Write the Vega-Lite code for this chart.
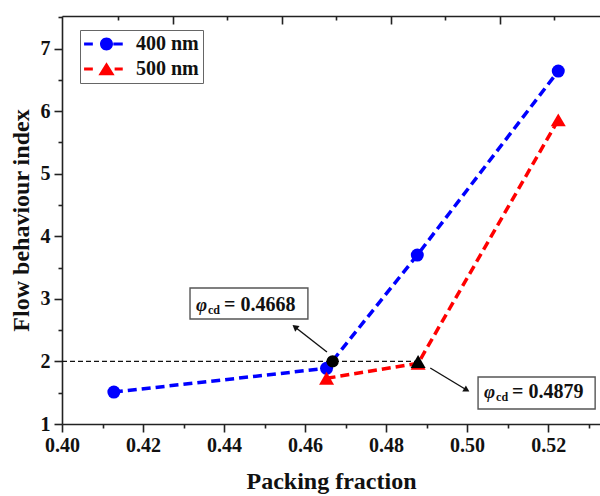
{
  "$schema": "https://vega.github.io/schema/vega-lite/v6.json",
  "width": 538,
  "height": 408,
  "autosize": {"type": "none"},
  "padding": {"left": 62, "top": 16, "right": 0, "bottom": 72},
  "background": "white",
  "config": {
    "view": {"stroke": null},
    "font": "Liberation Serif",
    "axis": {
      "labelFont": "Liberation Serif", "labelFontWeight": "bold", "labelFontSize": 20, "labelColor": "#111",
      "titleFont": "Liberation Serif", "titleFontWeight": "bold", "titleFontSize": 24, "titleColor": "#111",
      "domainColor": "#222", "domainWidth": 1.6, "tickColor": "#222", "tickWidth": 1.6, "grid": false,
      "labelFlush": false, "labelOverlap": false
    }
  },
  "datasets": {
    "series": [
      {"series": "400 nm", "x": 0.4128, "y": 1.51},
      {"series": "400 nm", "x": 0.4653, "y": 1.89},
      {"series": "400 nm", "x": 0.4877, "y": 3.70},
      {"series": "400 nm", "x": 0.5225, "y": 6.64},
      {"series": "500 nm", "x": 0.4653, "y": 1.73},
      {"series": "500 nm", "x": 0.4879, "y": 1.97},
      {"series": "500 nm", "x": 0.5225, "y": 5.86}
    ],
    "critical": [
      {"series": "400 nm", "x": 0.4668, "y": 2.0},
      {"series": "500 nm", "x": 0.4879, "y": 2.0}
    ],
    "guide": [{"x": 0.40, "x2": 0.4879, "y": 2.0}],
    "arrows": [
      {"id": "a", "x": 0.4654, "y": 2.15, "x2": 0.4575, "y2": 2.55},
      {"id": "b", "x": 0.4909, "y": 1.895, "x2": 0.4999, "y2": 1.543}
    ],
    "boxes": [
      {"label": "= 0.4668", "x": 0.4316, "x2": 0.4607, "y": 3.173, "y2": 2.677, "ty": 2.805},
      {"label": "= 0.4879", "x": 0.5027, "x2": 0.5316, "y": 1.751, "y2": 1.24, "ty": 1.415}
    ]
  },
  "layer": [
    {
      "data": {"name": "guide"},
      "mark": {"type": "rule", "color": "#111", "strokeWidth": 1.3, "strokeDash": [5, 3]},
      "encoding": {
        "x": {"field": "x", "type": "quantitative", "scale": {"domain": [0.4, 0.5328], "nice": false, "zero": false},
              "axis": {"orient": "top", "values": [0.41383, 0.44074, 0.46766, 0.49457, 0.52148], "tickSize": -4, "labels": false, "domain": false, "title": null}},
        "x2": {"field": "x2"},
        "y": {"field": "y", "type": "quantitative", "scale": {"domain": [1, 7.52], "nice": false, "zero": false}, "axis": null}
      }
    },
    {
      "data": {"name": "series"},
      "mark": {"type": "line", "strokeDash": [9, 5], "strokeWidth": 3.5},
      "encoding": {
        "x": {"field": "x", "type": "quantitative",
              "axis": {"orient": "bottom", "values": [0.4, 0.42, 0.44, 0.46, 0.48, 0.5, 0.52], "format": ".2f", "tickSize": 8, "labelPadding": 3, "title": "Packing fraction", "titleBaseline": "alphabetic", "titleY": 64}},
        "y": {"field": "y", "type": "quantitative",
              "axis": {"orient": "left", "values": [1, 2, 3, 4, 5, 6, 7], "format": "d", "tickSize": 8, "labelPadding": 4, "title": "Flow behaviour index", "titlePadding": 7}},
        "color": {"field": "series", "type": "nominal", "scale": {"range": ["#0000ff", "#ff0000"]}, "legend": null}
      }
    },
    {
      "data": {"name": "series"},
      "transform": [{"filter": "datum.series === '400 nm'"}],
      "mark": {"type": "point", "shape": "circle", "filled": true, "size": 169, "opacity": 1},
      "encoding": {
        "x": {"field": "x", "type": "quantitative",
              "axis": {"orient": "bottom", "values": [0.41, 0.43, 0.45, 0.47, 0.49, 0.51, 0.53], "tickSize": 4, "labels": false, "domain": false, "title": null}},
        "y": {"field": "y", "type": "quantitative",
              "axis": {"orient": "left", "values": [1.5, 2.5, 3.5, 4.5, 5.5, 6.5, 7.5], "tickSize": 4, "labels": false, "domain": false, "title": null}},
        "color": {"field": "series", "type": "nominal", "legend": null}
      }
    },
    {
      "data": {"name": "series"},
      "transform": [{"filter": "datum.series === '500 nm'"}],
      "mark": {"type": "point", "shape": "triangle-up", "filled": true, "size": 225, "opacity": 1},
      "encoding": {
        "x": {"field": "x", "type": "quantitative",
              "axis": {"orient": "top", "values": [0.42729, 0.4542, 0.48111, 0.50803], "tickSize": -8, "labels": false, "domain": true, "title": null}},
        "y": {"field": "y", "type": "quantitative", "axis": null},
        "color": {"field": "series", "type": "nominal", "legend": null}
      }
    },
    {
      "data": {"name": "critical"},
      "transform": [{"filter": "datum.series === '400 nm'"}],
      "mark": {"type": "point", "shape": "circle", "filled": true, "size": 150, "color": "#000", "opacity": 1},
      "encoding": {
        "x": {"field": "x", "type": "quantitative", "axis": null},
        "y": {"field": "y", "type": "quantitative", "axis": null}
      }
    },
    {
      "data": {"name": "critical"},
      "transform": [{"filter": "datum.series === '500 nm'"}],
      "mark": {"type": "point", "shape": "triangle-up", "filled": true, "size": 225, "color": "#000", "opacity": 1},
      "encoding": {
        "x": {"field": "x", "type": "quantitative", "axis": null},
        "y": {"field": "y", "type": "quantitative", "axis": null}
      }
    },
    {
      "data": {"name": "arrows"},
      "mark": {"type": "rule", "color": "#111", "strokeWidth": 1.4},
      "encoding": {
        "x": {"field": "x", "type": "quantitative", "axis": null},
        "y": {"field": "y", "type": "quantitative", "axis": null},
        "x2": {"field": "x2"},
        "y2": {"field": "y2"}
      }
    },
    {
      "data": {"name": "arrows"},
      "transform": [{"filter": "datum.id === 'a'"}],
      "mark": {"type": "point", "shape": "triangle-up", "filled": true, "size": 50, "color": "#111", "opacity": 1, "angle": 308},
      "encoding": {
        "x": {"field": "x2", "type": "quantitative", "axis": null},
        "y": {"field": "y2", "type": "quantitative", "axis": null}
      }
    },
    {
      "data": {"name": "arrows"},
      "transform": [{"filter": "datum.id === 'b'"}],
      "mark": {"type": "point", "shape": "triangle-up", "filled": true, "size": 50, "color": "#111", "opacity": 1, "angle": 121},
      "encoding": {
        "x": {"field": "x2", "type": "quantitative", "axis": null},
        "y": {"field": "y2", "type": "quantitative", "axis": null}
      }
    },
    {
      "data": {"name": "boxes"},
      "mark": {"type": "rect", "fill": "white", "stroke": "#555", "strokeWidth": 1.4},
      "encoding": {
        "x": {"field": "x", "type": "quantitative", "axis": null},
        "x2": {"field": "x2"},
        "y": {"field": "y", "type": "quantitative", "axis": null},
        "y2": {"field": "y2"}
      }
    },
    {
      "data": {"name": "boxes"},
      "mark": {"type": "text", "text": "φ", "align": "left", "baseline": "alphabetic", "dx": 6, "font": "Liberation Serif", "fontStyle": "italic", "fontWeight": "bold", "fontSize": 19, "color": "#111"},
      "encoding": {
        "x": {"field": "x", "type": "quantitative", "axis": null},
        "y": {"field": "ty", "type": "quantitative", "axis": null}
      }
    },
    {
      "data": {"name": "boxes"},
      "mark": {"type": "text", "text": "cd", "align": "left", "baseline": "alphabetic", "dx": 18, "dy": 3, "font": "Liberation Serif", "fontWeight": "bold", "fontSize": 12, "color": "#111"},
      "encoding": {
        "x": {"field": "x", "type": "quantitative", "axis": null},
        "y": {"field": "ty", "type": "quantitative", "axis": null}
      }
    },
    {
      "data": {"name": "boxes"},
      "mark": {"type": "text", "align": "left", "baseline": "alphabetic", "dx": 34, "font": "Liberation Serif", "fontWeight": "bold", "fontSize": 20, "color": "#111"},
      "encoding": {
        "x": {"field": "x", "type": "quantitative", "axis": null},
        "y": {"field": "ty", "type": "quantitative", "axis": null},
        "text": {"field": "label"}
      }
    },
    {
      "data": {"name": "series"},
      "transform": [{"filter": "datum.y > 100"}],
      "mark": {"type": "point", "filled": true},
      "encoding": {
        "x": {"field": "x", "type": "quantitative", "axis": null},
        "y": {"field": "y", "type": "quantitative", "axis": null},
        "fill": {"field": "series", "type": "nominal", "scale": {"domain": ["400 nm", "500 nm"], "range": ["#0000ff", "#ff0000"]},
                 "legend": {"orient": "none", "legendX": 18, "legendY": 14, "title": null, "padding": 4, "rowPadding": 5,
                            "labelFont": "Liberation Serif", "labelFontWeight": "bold", "labelFontSize": 20, "labelColor": "#111",
                            "symbolSize": 169, "symbolStrokeWidth": 0, "symbolOpacity": 1, "symbolOffset": 12.5, "labelOffset": 19.5,
                            "strokeColor": "#666", "fillColor": "white"}},
        "shape": {"field": "series", "type": "nominal",
                  "scale": {"domain": ["400 nm", "500 nm"], "range": [
                    "M-3.45,-0.23H-2.1V0.23H-3.45Z M1.05,-0.23H2.5V0.23H1.05Z M-1,0A1,1,0,1,1,1,0A1,1,0,1,1,-1,0Z",
                    "M-3.45,-0.23H-2.1V0.23H-3.45Z M1.25,-0.23H2.5V0.23H1.25Z M0,-1.05L1.25,0.95L-1.25,0.95Z"]},
                  "legend": {"orient": "none", "legendX": 18, "legendY": 14, "title": null, "padding": 4, "rowPadding": 5,
                            "labelFont": "Liberation Serif", "labelFontWeight": "bold", "labelFontSize": 20, "labelColor": "#111",
                            "symbolSize": 169, "symbolStrokeWidth": 0, "symbolOpacity": 1, "symbolOffset": 12.5, "labelOffset": 19.5,
                            "strokeColor": "#666", "fillColor": "white"}}
      }
    }
  ],
  "resolve": {"axis": {"x": "independent", "y": "independent"}}
}
